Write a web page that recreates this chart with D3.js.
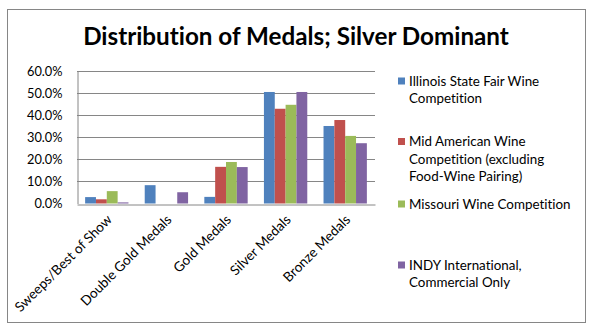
<!DOCTYPE html>
<html>
<head>
<meta charset="utf-8">
<script src="https://cdn.jsdelivr.net/npm/d3@7"></script>
<style>
  html, body { margin: 0; padding: 0; background: #fff; }
  svg { display: block; font-family: Lato, "Open Sans", sans-serif; font-variant-ligatures: none; }
</style>
</head>
<body>
<svg id="chart" width="596" height="333"></svg>
<script>
// Share of medals by type for each competition (percent)
const categories = ["Sweeps/Best of Show", "Double Gold Medals", "Gold Medals", "Silver Medals", "Bronze Medals"];
const seriesNames = [
  "Illinois State Fair Wine Competition",
  "Mid American Wine Competition (excluding Food-Wine Pairing)",
  "Missouri Wine Competition",
  "INDY International, Commercial Only"
];
const illinois = [2.9, 8.3, 3.0, 50.5, 35.1];
const midAmerican = [1.9, 0, 16.6, 42.9, 37.8];
const missouri = [5.6, 0, 18.8, 44.7, 30.6];
const indy = [0.5, 5.1, 16.5, 50.5, 27.3];
const yTicks = [0, 10, 20, 30, 40, 50, 60];
const legendLines = [
  ["Illinois State Fair Wine", "Competition"],
  ["Mid American Wine", "Competition (excluding", "Food-Wine Pairing)"],
  ["Missouri Wine Competition"],
  ["INDY International,", "Commercial Only"]
];
const colors = ["#4F81BD", "#C0504D", "#9BBB59", "#8064A2"];

const seriesValues = [illinois, midAmerican, missouri, indy];
const svg = d3.select("#chart");

// Outer chart frame
svg.append("rect")
  .attr("x", 7.5).attr("y", 9.5)
  .attr("width", 578).attr("height", 313)
  .attr("fill", "#fff").attr("stroke", "#868686").attr("stroke-width", 1);

// Title, sized to its box width
const title = svg.append("text")
  .attr("x", 296).attr("y", 44.5)
  .attr("text-anchor", "middle")
  .attr("font-weight", "bold")
  .attr("font-size", 21)
  .attr("fill", "#000")
  .text("Distribution of Medals; Silver Dominant");
const tw = title.node().getComputedTextLength();
title.attr("font-size", 21 * 426 / tw);

const plot = { left: 77, right: 375, top: 71, bottom: 203.5 };

const x = d3.scaleBand().domain(categories).range([plot.left, plot.right]).paddingInner(0).paddingOuter(0);
const xs = d3.scaleBand().domain(d3.range(seriesNames.length)).range([0, x.bandwidth()])
  .paddingInner(0).paddingOuter(0.75);
const y = d3.scaleLinear().domain([0, 60]).range([plot.bottom, plot.top]);

// Gridlines
svg.append("g")
  .selectAll("line")
  .data(yTicks.filter(d => d > 0))
  .join("line")
  .attr("x1", plot.left).attr("x2", plot.right)
  .attr("y1", d => Math.round(y(d)) + 0.5).attr("y2", d => Math.round(y(d)) + 0.5)
  .attr("stroke", "#868686").attr("stroke-width", 1);

// Bars
const groups = svg.append("g")
  .selectAll("g")
  .data(seriesValues)
  .join("g")
  .attr("fill", (d, i) => colors[i]);
groups.selectAll("rect")
  .data((vals, si) => vals.map((v, ci) => ({ v, ci, si })))
  .join("rect")
  .attr("x", d => x(categories[d.ci]) + xs(d.si))
  .attr("width", xs.bandwidth())
  .attr("y", d => y(d.v))
  .attr("height", d => y(0) - y(d.v));

// Y axis
const yAxis = svg.append("g")
  .attr("transform", `translate(${plot.left + 0.5},0)`)
  .call(d3.axisLeft(y).tickValues(yTicks).tickSize(0).tickPadding(15)
    .tickFormat(d => d3.format(".1f")(d) + "%"));
yAxis.select(".domain").attr("stroke", "#868686");
yAxis.selectAll("text").attr("font-size", 12.8).attr("fill", "#000")
  .attr("font-family", "Lato, 'Open Sans', sans-serif");

// X axis
const xAxis = svg.append("g")
  .attr("transform", `translate(0,${Math.round(plot.bottom) + 0.5})`)
  .call(d3.axisBottom(x).tickSize(0).tickPadding(0));
xAxis.select(".domain").attr("stroke", "#868686");
xAxis.selectAll("text")
  .attr("font-size", 13.6).attr("fill", "#000")
  .attr("font-family", "Lato, 'Open Sans', sans-serif")
  .attr("text-anchor", "end")
  .attr("dy", 0)
  .attr("transform", "translate(6,16) rotate(-45)");

// Legend
const lineH = 17.5;
const legendTop = [81, 141.5, 204, 265];
const legend = svg.append("g");
legendLines.forEach((lines, i) => {
  const g = legend.append("g");
  g.append("rect")
    .attr("x", 398).attr("y", legendTop[i] - 3.5)
    .attr("width", 7).attr("height", 7)
    .attr("fill", colors[i]);
  lines.forEach((t, j) => {
    g.append("text")
      .attr("x", 409).attr("y", legendTop[i] + j * lineH)
      .attr("dy", "0.35em")
      .attr("font-size", 13.4)
      .attr("fill", "#000")
      .text(t);
  });
});
</script>
</body>
</html>
